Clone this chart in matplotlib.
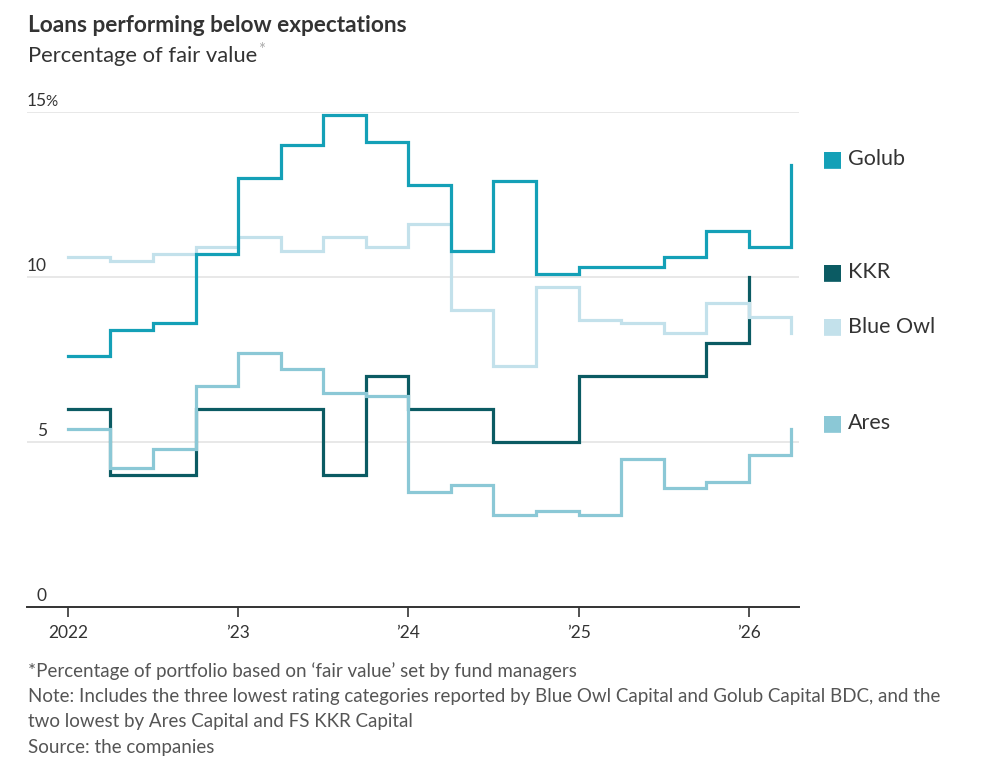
import matplotlib.pyplot as plt
import numpy as np

plt.rcParams['font.family'] = ['Lato', 'DejaVu Sans']

# quarterly readings, 2022 Q1 onward
quarters = np.arange(2022.0, 2026.26, 0.25)

golub = [7.6, 8.4, 8.6, 10.7, 13.0, 14.0, 14.9, 14.1, 12.8, 10.8, 12.9, 10.1,
         10.3, 10.3, 10.6, 11.4, 10.9, 13.4]
blue_owl = [10.6, 10.5, 10.7, 10.9, 11.2, 10.8, 11.2, 10.9, 11.6, 9.0, 7.3, 9.7,
            8.7, 8.6, 8.3, 9.2, 8.8, 8.3]
kkr = [6.0, 4.0, 4.0, 6.0, 6.0, 6.0, 4.0, 7.0, 6.0, 6.0, 5.0, 5.0,
       7.0, 7.0, 7.0, 8.0, 10.0]
ares = [5.4, 4.2, 4.8, 6.7, 7.7, 7.2, 6.5, 6.4, 3.5, 3.7, 2.8, 2.9,
        2.8, 4.5, 3.6, 3.8, 4.6, 5.4]

names = ['Golub', 'KKR', 'Blue Owl', 'Ares']
series = [golub, kkr, blue_owl, ares]
colors = ['#14a0b7', '#0b5b63', '#c3e1eb', '#8bc8d6']
zorders = [6, 3, 5, 4]

year_ticks = [2022, 2023, 2024, 2025, 2026]
year_labels = ['2022', '\u201923', '\u201924', '\u201925', '\u201926']
y_ticks = [0, 5, 10, 15]

W, H = 1003, 781
fig = plt.figure(figsize=(W / 100, H / 100), dpi=100)
ax = fig.add_axes([27 / W, (H - 607) / H, 772 / W, 495 / H])
ax.set_xlim(2021.76, 2026.295)
ax.set_ylim(0, 15)

for yt in y_ticks[1:]:
    ax.axhline(yt, color='#e2e2e2', lw=1.1, zorder=1)

for name, vals, c, z in zip(names, series, colors, zorders):
    ax.plot(quarters[:len(vals)], vals, drawstyle='steps-post', color=c,
            lw=2.3, zorder=z, clip_on=False, solid_joinstyle='miter')

for s in ['top', 'right', 'left']:
    ax.spines[s].set_visible(False)
ax.spines['bottom'].set_color('#333333')
ax.spines['bottom'].set_linewidth(1.4)

ax.set_xticks(year_ticks)
ax.set_xticklabels(year_labels, fontsize=12.5, color='#333333')
ax.tick_params(axis='x', length=7, width=1.2, color='#333333', pad=6)
ax.set_yticks([])

# y labels sit above gridlines, numbers right-aligned
num_x = 47 / W
for yt in y_ticks:
    ytr = ax.transData.transform((0, yt))[1]
    yf = fig.transFigure.inverted().transform((0, ytr))[1] + 3 / H
    fig.text(num_x, yf, str(yt), ha='right', va='bottom', fontsize=12.5, color='#333333')
    if yt == 15:
        fig.text(num_x - 1.5 / W, yf, '%', ha='left', va='bottom', fontsize=11, color='#333333')

# legend labels at each series' last value
label_offsets = [0.17, 0.15, 0.2, 0.18]
for name, vals, c, off in zip(names, series, colors, label_offsets):
    yp = ax.transData.transform((0, vals[-1] + off))[1]
    yf = fig.transFigure.inverted().transform((0, yp))[1]
    fig.text(822 / W, yf, '\u25A0', ha='left', va='center', fontsize=16, color=c)
    fig.text(848 / W, yf, name, ha='left', va='center', fontsize=15.5, color='#333333')

fig.text(28 / W, 1 - 25 / H, 'Loans performing below expectations', ha='left', va='center',
         fontsize=16.3, fontweight='bold', color='#333333')
sub = fig.text(28 / W, 1 - 56 / H, 'Percentage of fair value', ha='left', va='center',
               fontsize=15.8, color='#333333')
fig.canvas.draw()
bb = sub.get_window_extent(fig.canvas.get_renderer())
fig.text(bb.x1 / W + 1 / W, 1 - 50 / H, '*', ha='left', va='center', fontsize=12,
         color='#aaaaaa')

notes = ['*Percentage of portfolio based on \u2018fair value\u2019 set by fund managers',
         'Note: Includes the three lowest rating categories reported by Blue Owl Capital and Golub Capital BDC, and the',
         'two lowest by Ares Capital and FS KKR Capital',
         'Source: the companies']
for i, line in enumerate(notes):
    fig.text(28 / W, 1 - (671 + 25.5 * i) / H, line, ha='left', va='center',
             fontsize=13.5, color='#555555')

fig.savefig('out.png', dpi=100)
